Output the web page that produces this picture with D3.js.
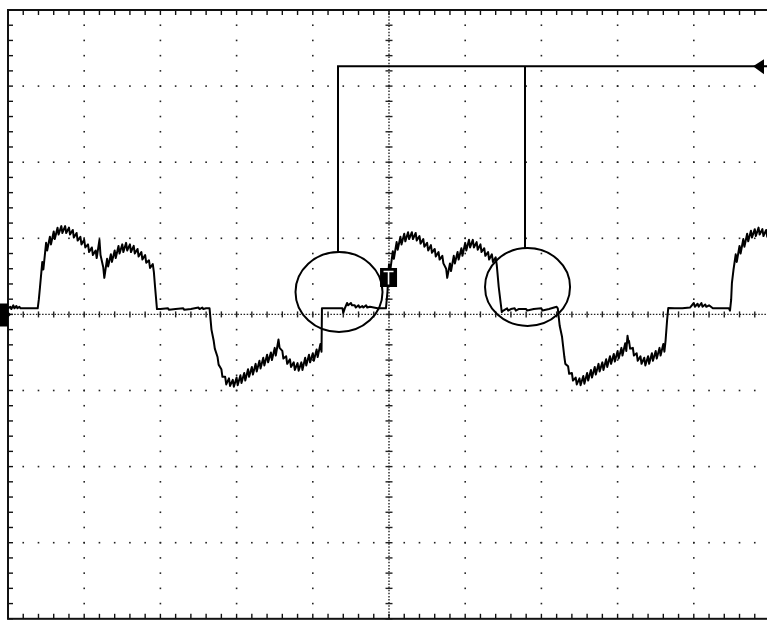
<!DOCTYPE html>
<html>
<head>
<meta charset="utf-8">
<script src="https://cdn.jsdelivr.net/npm/d3@7"></script>
<style>
  body { margin: 0; background: #fff; }
  svg { display: block; }
</style>
</head>
<body>
<div id="scope"></div>
<script>
// screen is 10 x 8 divisions, trace values are in divisions (t, v)
// rows: [t, v] single sample, or [t, vHigh, vLow] for a ripple tooth
var seg0 = [[0.00, 0.08], [0.03, 0.10, 0.07], [0.07, 0.12, 0.08], [0.11, 0.11, 0.08], [0.15, 0.10, 0.08],
  [0.20, 0.08], [0.30, 0.08], [0.39, 0.08]];

var segA = [[0.405, 0.20], [0.42, 0.36],
  [0.45, 0.69, 0.59], [0.50, 0.94, 0.84], [0.55, 1.02, 0.92], [0.60, 1.09, 0.99], [0.65, 1.14, 1.05],
  [0.70, 1.16, 1.07], [0.75, 1.16, 1.07], [0.80, 1.14, 1.05], [0.85, 1.11, 1.01], [0.90, 1.07, 0.97],
  [0.95, 1.02, 0.92], [1.00, 0.98, 0.88], [1.05, 0.92, 0.82], [1.10, 0.88, 0.78], [1.15, 0.84, 0.74],
  [1.20, 0.98, 0.78], [1.25, 0.62, 0.48], [1.30, 0.73, 0.63], [1.35, 0.79, 0.69], [1.40, 0.84, 0.74],
  [1.45, 0.90, 0.80], [1.50, 0.92, 0.82], [1.55, 0.94, 0.84], [1.60, 0.92, 0.82], [1.65, 0.90, 0.80],
  [1.70, 0.86, 0.76], [1.75, 0.82, 0.72], [1.80, 0.78, 0.68], [1.85, 0.71, 0.61], [1.90, 0.66, 0.56],
  [1.93, 0.36], [1.955, 0.07]];

var flat1 = [[2.00, 0.07], [2.10, 0.08, 0.06], [2.20, 0.07], [2.30, 0.08, 0.06], [2.40, 0.07],
  [2.50, 0.09, 0.07], [2.55, 0.09, 0.07], [2.60, 0.08], [2.645, 0.08]];

var segB = [[2.67, -0.20],
  [2.70, -0.35, -0.45], [2.75, -0.56, -0.66], [2.80, -0.72, -0.82], [2.85, -0.82, -0.92], [2.90, -0.84, -0.94],
  [2.95, -0.86, -0.95], [3.00, -0.83, -0.93], [3.05, -0.80, -0.90], [3.10, -0.77, -0.87], [3.15, -0.72, -0.82],
  [3.20, -0.69, -0.79], [3.25, -0.65, -0.75], [3.30, -0.61, -0.71], [3.35, -0.57, -0.67], [3.40, -0.53, -0.63],
  [3.45, -0.50, -0.60], [3.50, -0.44, -0.54], [3.55, -0.33, -0.44], [3.60, -0.48, -0.58], [3.65, -0.55, -0.65],
  [3.70, -0.59, -0.69], [3.75, -0.63, -0.73], [3.80, -0.64, -0.74], [3.85, -0.63, -0.73], [3.90, -0.57, -0.67],
  [3.95, -0.53, -0.63], [4.00, -0.51, -0.61], [4.05, -0.46, -0.56], [4.10, -0.39, -0.49],
  [4.115, -0.44], [4.12, 0.08]];

var flat2 = [[4.20, 0.08], [4.30, 0.08], [4.39, 0.08], [4.40, 0.02], [4.42, 0.08], [4.45, 0.15, 0.12],
  [4.50, 0.15, 0.12], [4.55, 0.12, 0.09], [4.60, 0.12, 0.09], [4.65, 0.11, 0.09], [4.70, 0.12, 0.09],
  [4.75, 0.10], [4.85, 0.08], [4.96, 0.08]];

var segC = [[4.98, 0.30],
  [5.00, 0.66, 0.56], [5.05, 0.83, 0.73], [5.10, 0.95, 0.85], [5.15, 1.02, 0.92], [5.20, 1.06, 0.96],
  [5.25, 1.08, 0.99], [5.30, 1.08, 0.99], [5.35, 1.07, 0.97], [5.40, 1.03, 0.93], [5.45, 0.99, 0.89],
  [5.50, 0.94, 0.84], [5.55, 0.91, 0.81], [5.60, 0.86, 0.76], [5.65, 0.82, 0.72], [5.70, 0.77, 0.67],
  [5.75, 0.60, 0.48], [5.80, 0.67, 0.57], [5.85, 0.77, 0.67], [5.90, 0.82, 0.72], [5.95, 0.87, 0.77],
  [6.00, 0.94, 0.84], [6.05, 0.98, 0.88], [6.10, 0.98, 0.88], [6.15, 0.95, 0.85], [6.20, 0.92, 0.82],
  [6.25, 0.87, 0.77], [6.30, 0.82, 0.72], [6.35, 0.79, 0.69], [6.40, 0.75, 0.65],
  [6.44, 0.36], [6.48, 0.03]];

var flat3 = [[6.50, 0.05], [6.55, 0.08, 0.05], [6.60, 0.07], [6.65, 0.08, 0.05], [6.70, 0.07],
  [6.80, 0.07, 0.05], [6.90, 0.07], [7.00, 0.08, 0.05], [7.10, 0.07], [7.20, 0.10], [7.215, 0.08]];

var segD = [[7.24, -0.15],
  [7.27, -0.29, -0.41], [7.30, -0.55, -0.65], [7.35, -0.68, -0.78], [7.40, -0.77, -0.87], [7.45, -0.83, -0.92],
  [7.50, -0.84, -0.93], [7.55, -0.81, -0.91], [7.60, -0.77, -0.87], [7.65, -0.73, -0.83], [7.70, -0.69, -0.79],
  [7.75, -0.65, -0.75], [7.80, -0.63, -0.73], [7.85, -0.59, -0.69], [7.90, -0.55, -0.65], [7.95, -0.52, -0.62],
  [8.00, -0.48, -0.58], [8.05, -0.44, -0.54], [8.10, -0.38, -0.48], [8.13, -0.28, -0.37], [8.15, -0.35, -0.45],
  [8.20, -0.44, -0.54], [8.25, -0.51, -0.61], [8.30, -0.55, -0.65], [8.35, -0.57, -0.67], [8.40, -0.55, -0.65],
  [8.45, -0.51, -0.61], [8.50, -0.48, -0.58], [8.55, -0.44, -0.54], [8.60, -0.39, -0.49],
  [8.63, -0.34], [8.65, -0.07], [8.665, 0.085]];

var flat4 = [[8.75, 0.08], [8.85, 0.08], [8.95, 0.09], [9.00, 0.15, 0.10], [9.05, 0.14, 0.10],
  [9.10, 0.15, 0.10], [9.15, 0.13, 0.10], [9.20, 0.12], [9.25, 0.08], [9.35, 0.08], [9.46, 0.08], [9.475, 0.05]];

var segE = [[9.49, 0.19], [9.50, 0.41], [9.52, 0.58],
  [9.55, 0.79, 0.69], [9.60, 0.90, 0.80], [9.65, 0.99, 0.89], [9.70, 1.06, 0.96], [9.75, 1.10, 1.01],
  [9.80, 1.12, 1.03], [9.85, 1.14, 1.05], [9.90, 1.12, 1.03], [9.95, 1.11, 1.02], [10.0, 1.10, 1.01]];

// grid divisions
var xDivs = [0, 1, 2, 3, 4, 5, 6, 7, 8, 9, 10];
var yDivs = [-4, -3, -2, -1, 0, 1, 2, 3, 4];
var minorStep = 0.2;

// annotation: circled regions and the leader that joins them
var circleMarks = [{t: 4.344, v: 0.294, rt: 0.571, rv: 0.526, lead: 4.331},
                   {t: 6.818, v: 0.36, rt: 0.558, rv: 0.512, lead: 6.785}];
var leaderV = 3.262, leaderStart = 4.318, leaderEnd = 10, arrowTip = 9.777;
var triggerMark = {t: 4.994, v: 0.485};
var groundLevel = 0;

var width = 767, height = 620;

var x = d3.scaleLinear().domain([0, 10]).range([8, 770]);
var y = d3.scaleLinear().domain([-4, 4]).range([618.8, 10]);

var svg = d3.select("#scope").append("svg")
    .attr("width", width)
    .attr("height", height);

svg.append("rect").attr("width", width).attr("height", height).attr("fill", "#fff");

var minorT = d3.range(0, 10 + 1e-6, minorStep);
var minorV = d3.range(-4, 4 + 1e-6, minorStep);

//dotted grid lines (not the centre ones)
var grid = svg.append("g").attr("fill", "#222");
xDivs.filter(function(d) { return d > 0 && d < 10 && d != 5; }).forEach(function(t) {
    grid.selectAll(null)
      .data(minorV.filter(function(v) { return v > -3.95 && v < 3.95; }))
      .enter().append("rect")
        .attr("x", x(t) - 0.8).attr("y", function(v) { return y(v) - 0.8; })
        .attr("width", 1.6).attr("height", 1.6);
});
yDivs.filter(function(d) { return d > -4 && d < 4 && d != 0; }).forEach(function(v) {
    grid.selectAll(null)
      .data(minorT.filter(function(t) { return t > 0.05 && t < 9.95; }))
      .enter().append("rect")
        .attr("x", function(t) { return x(t) - 0.8; }).attr("y", y(v) - 0.8)
        .attr("width", 1.6).attr("height", 1.6);
});

//centre axes, fine dotted with a tick every minor division
var axes = svg.append("g").attr("stroke", "#222").attr("stroke-width", 1.4);
axes.append("line")
    .attr("x1", x(0)).attr("x2", x(10)).attr("y1", y(0)).attr("y2", y(0))
    .attr("stroke-dasharray", "1.5 1.6");
axes.append("line")
    .attr("x1", x(5)).attr("x2", x(5)).attr("y1", y(4)).attr("y2", y(-4))
    .attr("stroke-dasharray", "1.5 1.6");
axes.selectAll(".tx")
    .data(minorT).enter().append("line")
      .attr("x1", function(t) { return x(t); }).attr("x2", function(t) { return x(t); })
      .attr("y1", y(0) - 3).attr("y2", y(0) + 3);
axes.selectAll(".ty")
    .data(minorV).enter().append("line")
      .attr("y1", function(v) { return y(v); }).attr("y2", function(v) { return y(v); })
      .attr("x1", x(5) - 3.5).attr("x2", x(5) + 3.5);

//border with inward ticks
var frame = svg.append("g").attr("stroke", "#111");
frame.append("rect")
    .attr("x", x(0)).attr("y", y(4))
    .attr("width", x(10) - x(0)).attr("height", y(-4) - y(4))
    .attr("fill", "none").attr("stroke-width", 2);
frame.selectAll(".bt")
    .data(minorT).enter().append("line")
      .attr("x1", function(t) { return x(t); }).attr("x2", function(t) { return x(t); })
      .attr("y1", y(4)).attr("y2", y(4) + 5).attr("stroke-width", 1.4);
frame.selectAll(".bb")
    .data(minorT).enter().append("line")
      .attr("x1", function(t) { return x(t); }).attr("x2", function(t) { return x(t); })
      .attr("y1", y(-4)).attr("y2", y(-4) - 5).attr("stroke-width", 1.4);
frame.selectAll(".bl")
    .data(minorV).enter().append("line")
      .attr("y1", function(v) { return y(v); }).attr("y2", function(v) { return y(v); })
      .attr("x1", x(0)).attr("x2", x(0) + 5).attr("stroke-width", 1.4);

//waveform
var trace = [].concat(seg0, segA, flat1, segB, flat2, segC, flat3, segD, flat4, segE);
var pts = [];
trace.forEach(function(r) {
    pts.push([r[0], r[1]]);
    if (r.length > 2) pts.push([r[0] + 0.014, r[2]]);
});
var line = d3.line().x(function(d) { return x(d[0]); }).y(function(d) { return y(d[1]); });
svg.append("path")
    .datum(pts)
    .attr("fill", "none")
    .attr("stroke", "#000")
    .attr("stroke-width", 2)
    .attr("stroke-linejoin", "round")
    .attr("d", line);

//trigger marker
var tg = svg.append("g");
tg.append("rect")
    .attr("x", x(triggerMark.t) - 8.5).attr("y", y(triggerMark.v) - 9.5)
    .attr("width", 17).attr("height", 19).attr("fill", "#000");
tg.append("path")
    .attr("d", "M" + (x(triggerMark.t) - 5) + "," + (y(triggerMark.v) - 6) + "h10"
      + "M" + x(triggerMark.t) + "," + (y(triggerMark.v) - 6) + "v13")
    .attr("stroke", "#fff").attr("stroke-width", 1.6);

//ground marker on the left edge
svg.append("path")
    .attr("d", "M0," + (y(groundLevel) - 11) + "H8V" + (y(groundLevel) - 3) + "L11," + y(groundLevel)
      + "L8," + (y(groundLevel) + 3) + "V" + (y(groundLevel) + 12) + "H0Z")
    .attr("fill", "#000");

//circles and leader lines
var ann = svg.append("g").attr("fill", "none").attr("stroke", "#000").attr("stroke-width", 2);
ann.selectAll("ellipse")
    .data(circleMarks).enter().append("ellipse")
      .attr("cx", function(d) { return x(d.t); })
      .attr("cy", function(d) { return y(d.v); })
      .attr("rx", function(d) { return x(d.rt) - x(0); })
      .attr("ry", function(d) { return y(0) - y(d.rv); });
ann.selectAll(".lead")
    .data(circleMarks).enter().append("line")
      .attr("x1", function(d) { return x(d.lead); })
      .attr("x2", function(d) { return x(d.lead); })
      .attr("y1", y(leaderV))
      .attr("y2", function(d) { return y(d.v + d.rv); });
ann.append("line")
    .attr("x1", x(leaderStart)).attr("x2", x(leaderEnd))
    .attr("y1", y(leaderV)).attr("y2", y(leaderV));
svg.append("path")
    .attr("d", "M" + x(arrowTip) + "," + y(leaderV) + "L" + (x(arrowTip) + 11) + "," + (y(leaderV) - 7)
      + "V" + (y(leaderV) + 8) + "Z")
    .attr("fill", "#000");
</script>
</body>
</html>
